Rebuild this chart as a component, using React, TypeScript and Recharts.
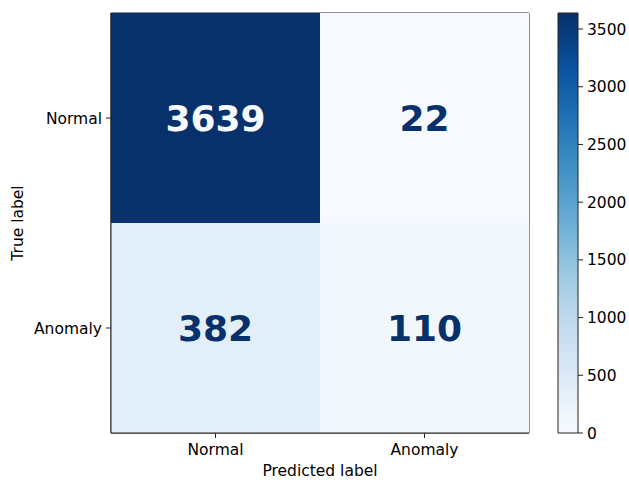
import { BarChart, Bar, XAxis, YAxis, Cell, LabelList, Label, ReferenceArea } from 'recharts';

const categories = ['Normal', 'Anomaly'];
// rows = true label, columns = predicted label
const trueNormal = [3639, 22];
const trueAnomaly = [382, 110];
const colorTicks = [0, 500, 1000, 1500, 2000, 2500, 3000, 3500];

const BLUES = ['#f7fbff', '#deebf7', '#c6dbef', '#9ecae1', '#6baed6', '#4292c6', '#2171b5', '#08519c', '#08306b'];
const FONT = '"DejaVu Sans", sans-serif';
const AXIS = '#222';

const maxCount = Math.max(...trueNormal, ...trueAnomaly);
const minCount = Math.min(...trueNormal, ...trueAnomaly);

function hexToRgb(h: string) {
  const n = parseInt(h.slice(1), 16);
  return [(n >> 16) & 255, (n >> 8) & 255, n & 255];
}

function blues(t: number) {
  const p = Math.max(0, Math.min(1, t)) * (BLUES.length - 1);
  const i = Math.min(Math.floor(p), BLUES.length - 2);
  const f = p - i;
  const a = hexToRgb(BLUES[i]);
  const b = hexToRgb(BLUES[i + 1]);
  const c = a.map((v, k) => Math.round(v + (b[k] - v) * f));
  return `rgb(${c[0]},${c[1]},${c[2]})`;
}

const cellColor = (v: number) => blues(v / maxCount);
const textColor = (v: number) => (v > (maxCount + minCount) / 2 ? '#f7fbff' : '#08306b');

const data = categories.map((pred, i) => ({
  pred,
  normalCount: trueNormal[i],
  anomalyCount: trueAnomaly[i],
  normalH: 1,
  anomalyH: 1,
}));

const countLabel = (key: 'normalCount' | 'anomalyCount') => (props: any) => {
  const { x, y, width, height, index } = props;
  const v = data[index][key];
  return (
    <text
      x={x + width / 2}
      y={y + height / 2}
      textAnchor="middle"
      dominantBaseline="central"
      fill={textColor(v)}
      fontFamily={FONT}
      fontWeight="bold"
      fontSize={36}
    >
      {v}
    </text>
  );
};

const tickStyle = { fill: '#000', fontSize: 15.5, fontFamily: FONT };

export default function App() {
  return (
    <div style={{ position: 'absolute', left: 0, top: 0, width: 629, height: 480, background: '#fff' }}>
      <div style={{ position: 'absolute', left: 0, top: 0 }}>
        <BarChart
          width={629}
          height={480}
          data={data}
          margin={{ top: 13, right: 100, bottom: 0, left: 0 }}
          barCategoryGap={0}
          barGap={0}
        >
          <XAxis
            dataKey="pred"
            height={47}
            tickSize={5}
            tickMargin={6}
            tick={tickStyle}
            tickLine={{ stroke: AXIS }}
            axisLine={{ stroke: AXIS }}
          >
            <Label value="Predicted label" position="insideBottom" offset={4} fill="#000" fontSize={15.5} fontFamily={FONT} />
          </XAxis>
          <YAxis
            type="number"
            domain={[0, 2]}
            ticks={[0.5, 1.5]}
            tickFormatter={(v: number) => categories[1 - Math.floor(v)]}
            width={111}
            tickSize={5}
            tickMargin={4}
            tick={tickStyle}
            tickLine={{ stroke: AXIS }}
            axisLine={{ stroke: AXIS }}
          >
            <Label
              content={(props: any) => {
                const vb = props.viewBox;
                const cx = vb.x + 18;
                const cy = vb.y + vb.height / 2;
                return (
                  <text
                    x={cx}
                    y={cy}
                    transform={`rotate(-90 ${cx} ${cy})`}
                    textAnchor="middle"
                    dominantBaseline="central"
                    fill="#000"
                    fontSize={15.5}
                    fontFamily={FONT}
                  >
                    True label
                  </text>
                );
              }}
            />
          </YAxis>
          <Bar dataKey="anomalyH" stackId="m" isAnimationActive={false}>
            {data.map((d) => (
              <Cell key={d.pred} fill={cellColor(d.anomalyCount)} />
            ))}
            <LabelList content={countLabel('anomalyCount')} />
          </Bar>
          <Bar dataKey="normalH" stackId="m" isAnimationActive={false}>
            {data.map((d) => (
              <Cell key={d.pred} fill={cellColor(d.normalCount)} />
            ))}
            <LabelList content={countLabel('normalCount')} />
          </Bar>
          <ReferenceArea y1={0} y2={2} fill="none" fillOpacity={0} stroke={AXIS} strokeWidth={1} ifOverflow="visible" />
        </BarChart>
      </div>
      <div style={{ position: 'absolute', left: 540, top: 0 }}>
        <BarChart
          width={89}
          height={480}
          data={[{ name: 'scale', value: maxCount }]}
          margin={{ top: 13, right: 0, bottom: 47, left: 18 }}
          barCategoryGap={0}
        >
          <defs>
            <linearGradient id="cbar" x1="0" y1="1" x2="0" y2="0">
              {BLUES.map((c, i) => (
                <stop key={c} offset={`${(i / (BLUES.length - 1)) * 100}%`} stopColor={c} />
              ))}
            </linearGradient>
          </defs>
          <XAxis dataKey="name" hide />
          <YAxis
            orientation="right"
            type="number"
            domain={[0, maxCount]}
            ticks={colorTicks}
            width={51}
            tickSize={5}
            tickMargin={4}
            tick={{ ...tickStyle, textAnchor: 'start' }}
            tickLine={{ stroke: AXIS }}
            axisLine={false}
          />
          <Bar dataKey="value" fill="url(#cbar)" stroke={AXIS} strokeWidth={1} isAnimationActive={false} />
        </BarChart>
      </div>
    </div>
  );
}
